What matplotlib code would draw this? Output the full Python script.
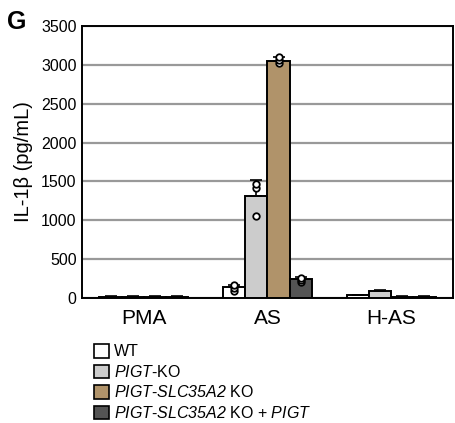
import numpy as np
import matplotlib.pyplot as plt
from matplotlib.patches import Patch

plt.rcParams['font.family'] = ['Liberation Sans', 'DejaVu Sans']
plt.rcParams['mathtext.fontset'] = 'custom'
plt.rcParams['mathtext.rm'] = 'Liberation Sans:italic'
plt.rcParams['mathtext.it'] = 'Liberation Sans:italic'

# data
stimuli = ["PMA", "AS", "H-AS"]
groups = ["WT", "$PIGT$-KO", "$PIGT$-$SLC35A2$ KO",
          "$PIGT$-$SLC35A2$ KO + $PIGT$"]
colors = ["#ffffff", "#cccccc", "#b0936a", "#545454"]

means = {
    "WT": [18, 140, 40],
    "PIGT-KO": [18, 1315, 88],
    "SLC": [18, 3050, 18],
    "rescue": [18, 240, 18],
}
errs = {
    "WT": [3, 30, 5],
    "PIGT-KO": [3, 200, 10],
    "SLC": [3, 45, 3],
    "rescue": [3, 25, 3],
}
# replicate points visible only for AS
as_points = {
    "WT": [85, 125, 165],
    "PIGT-KO": [1050, 1410, 1470],
    "SLC": [3030, 3060, 3100],
    "rescue": [200, 230, 260],
}

fig = plt.figure(figsize=(4.56, 4.23), dpi=100)
ax = fig.add_axes([0.180, 0.2955, 0.813, 0.643])

x = np.arange(len(stimuli))
w = 0.18
keys = ["WT", "PIGT-KO", "SLC", "rescue"]
for i, k in enumerate(keys):
    xs = x + (i - 1.5) * w
    ax.bar(xs, means[k], w, color=colors[i], edgecolor="black", linewidth=1.4, zorder=3)
    ax.errorbar(xs, means[k], yerr=[np.zeros(3), errs[k]], fmt="none", ecolor="black",
                elinewidth=1.2, capsize=4, capthick=1.2, zorder=4)
    ax.scatter([xs[1]] * 3, as_points[k], s=22, facecolor="white", edgecolor="black",
               linewidth=1.3, zorder=5)

ax.set_xlim(-0.5, 2.5)
ax.set_ylim(0, 3500)
ax.set_yticks(np.arange(0, 3501, 500))
ax.yaxis.grid(True, color="#999999", linewidth=1.6, zorder=0)
ax.set_axisbelow(True)
ax.set_xticks(x)
ax.set_xticklabels(stimuli, fontsize=15)
ax.tick_params(axis="x", length=0, pad=8)
ax.tick_params(axis="y", length=0, labelsize=11.5, pad=4)
for s in ax.spines.values():
    s.set_linewidth(1.4)
ax.set_ylabel("IL-1β (pg/mL)", fontsize=14.5, labelpad=6)

fig.text(0.015, 0.948, "G", fontsize=18, fontweight="bold", va="center")

handles = [Patch(facecolor=c, edgecolor="black", linewidth=1.2) for c in colors]
fig.legend(handles, groups, loc="upper left", bbox_to_anchor=(0.207, 0.186),
           frameon=False, fontsize=11.5, handlelength=0.9, handleheight=0.9,
           handletextpad=0.3, labelspacing=0.28, borderaxespad=0, borderpad=0)

fig.savefig("out.png", dpi=100)
